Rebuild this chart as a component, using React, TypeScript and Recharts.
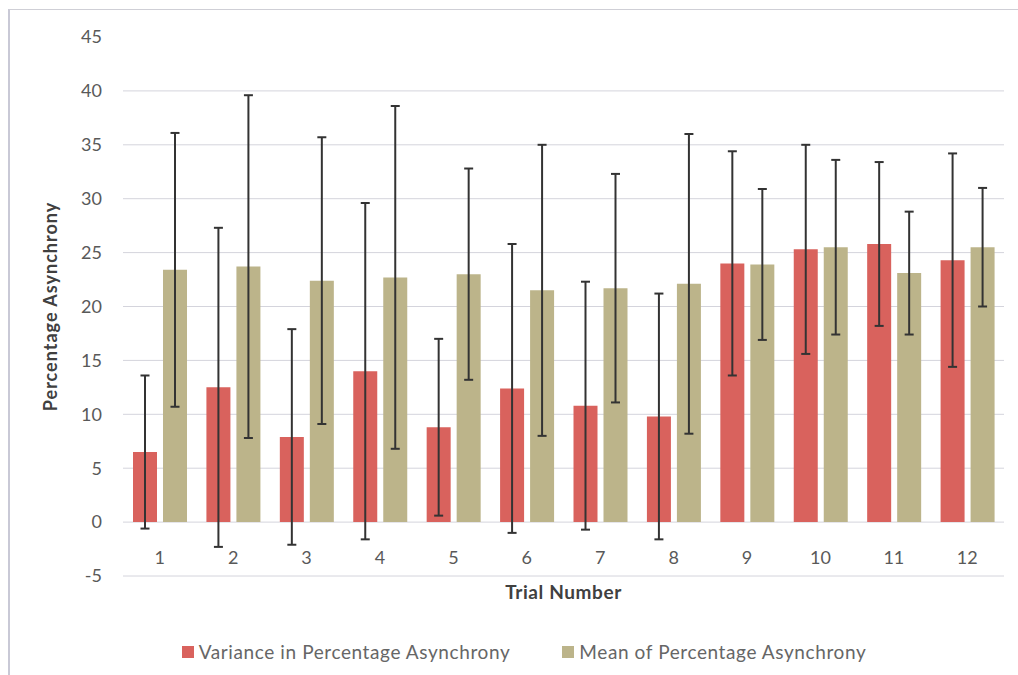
import { BarChart, Bar, XAxis, YAxis, CartesianGrid, Legend, ErrorBar } from 'recharts';

const trials = ['1', '2', '3', '4', '5', '6', '7', '8', '9', '10', '11', '12'];
const variance = [6.5, 12.5, 7.9, 14.0, 8.8, 12.4, 10.8, 9.8, 24.0, 25.3, 25.8, 24.3];
const varianceErr = [7.1, 14.8, 10.0, 15.6, 8.2, 13.4, 11.5, 11.4, 10.4, 9.7, 7.6, 9.9];
const mean = [23.4, 23.7, 22.4, 22.7, 23.0, 21.5, 21.7, 22.1, 23.9, 25.5, 23.1, 25.5];
const meanErr = [12.7, 15.9, 13.3, 15.9, 9.8, 13.5, 10.6, 13.9, 7.0, 8.1, 5.7, 5.5];
const yTicks = [-5, 0, 5, 10, 15, 20, 25, 30, 35, 40, 45];
const gridValues = [-5, 0, 5, 10, 15, 20, 25, 30, 35, 40];

const data = trials.map((t, i) => ({
  trial: t,
  variance: variance[i],
  varianceErr: varianceErr[i],
  mean: mean[i],
  meanErr: meanErr[i],
}));

const RED = '#d9625d';
const KHAKI = '#bcb48a';
const FONT = 'Lato, "Open Sans", sans-serif';

const legendItems = [
  { label: 'Variance in Percentage Asynchrony', color: RED },
  { label: 'Mean of Percentage Asynchrony', color: KHAKI },
];

function ChartLegend() {
  return (
    <div
      style={{
        display: 'flex',
        justifyContent: 'center',
        gap: 52,
        paddingLeft: 44,
        fontFamily: FONT,
        fontSize: 19,
        letterSpacing: 0.6,
        color: '#666',
      }}
    >
      {legendItems.map((item) => (
        <div key={item.label} style={{ display: 'flex', alignItems: 'center', gap: 5 }}>
          <div style={{ width: 12, height: 12, background: item.color }} />
          <span>{item.label}</span>
        </div>
      ))}
    </div>
  );
}

export default function App() {
  return (
    <div style={{ position: 'absolute', left: 0, top: 0, width: 1018, height: 675, background: '#fff', overflow: 'hidden' }}>
      <div
        style={{
          position: 'absolute',
          left: 8,
          top: 9,
          width: 1020,
          height: 700,
          borderLeft: '2px solid #c9c9d6',
          borderTop: '1px solid #cfcfd6',
        }}
      />
      <div style={{ position: 'absolute', left: 0, top: 0 }}>
        <BarChart
          width={1018}
          height={675}
          data={data}
          margin={{ top: 37, right: 14, bottom: 12, left: 0 }}
          barCategoryGap={10}
          barGap={6}
        >
          <CartesianGrid horizontal vertical={false} stroke="#d4d4dc" horizontalValues={gridValues} />
          <XAxis
            dataKey="trial"
            interval={0}
            axisLine={false}
            tickLine={false}
            height={64}
            dy={-33}
            tick={{ fill: '#595959', fontSize: 18, fontFamily: FONT }}
            label={{
              value: 'Trial Number',
              position: 'insideTop',
              offset: 10,
              fill: '#404040',
              fontSize: 19,
              letterSpacing: 0.6,
              fontWeight: 700,
              fontFamily: FONT,
            }}
          />
          <YAxis
            domain={[-5, 45]}
            ticks={yTicks}
            interval={0}
            width={123}
            axisLine={false}
            tickLine={false}
            tickMargin={15}
            tick={{ fill: '#595959', fontSize: 18, fontFamily: FONT }}
            label={{
              value: 'Percentage Asynchrony',
              angle: -90,
              position: 'center',
              dx: -11,
              fill: '#404040',
              fontSize: 18,
              letterSpacing: 1,
              fontWeight: 700,
              fontFamily: FONT,
            }}
          />
          <Legend verticalAlign="bottom" content={() => <ChartLegend />} />
          <Bar dataKey="variance" fill={RED} isAnimationActive={false}>
            <ErrorBar dataKey="varianceErr" width={4.5} stroke="#333" strokeWidth={2} />
          </Bar>
          <Bar dataKey="mean" fill={KHAKI} isAnimationActive={false}>
            <ErrorBar dataKey="meanErr" width={4.5} stroke="#333" strokeWidth={2} />
          </Bar>
        </BarChart>
      </div>
    </div>
  );
}
